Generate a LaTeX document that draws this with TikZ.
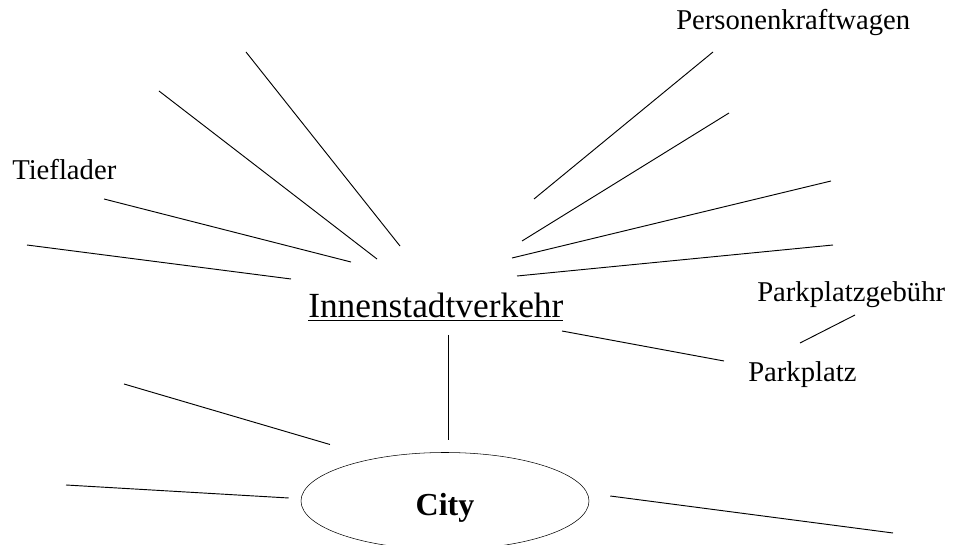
\documentclass[tikz,border=0pt]{standalone}
\usepackage{fontspec}
\setmainfont{Liberation Serif}
\usetikzlibrary{shapes.geometric}
\tikzstyle{topic}=[inner sep=0pt,font=\fontsize{26.5}{31}\selectfont]
\tikzstyle{word}=[inner sep=0pt,font=\fontsize{21.5}{25}\selectfont]
\tikzstyle{hub}=[ellipse,draw=black,inner sep=0pt,minimum width=216pt,minimum height=72.75pt,text height=21pt,text depth=0pt,font=\fontsize{24}{28}\selectfont\bfseries]
\tikzstyle{branch}=[line width=0.7pt]
\begin{document}
\begin{tikzpicture}[x=0.75pt,y=-0.75pt]
            \useasboundingbox (0,0) rectangle (954,545);
            \node (inv)[topic,anchor=base west] at (308,318) {\underline{Innenstadtverkehr}};
            \node (city)[hub] at (445,501) {City};
            \node (tief)[word,anchor=base west] at (12,180) {Tieflader};
            \node (pkw)[word,anchor=base west] at (676,30) {Personenkraftwagen};
            \node (park)[word,anchor=base west] at (748,382) {Parkplatz};
            \node (fee)[word,anchor=base west] at (757,302) {Parkplatzgebühr};
            % free ends of the empty branches
            \coordinate (free1) at (246,52);
            \coordinate (free2) at (159,91);
            \coordinate (free3) at (27,245);
            \coordinate (free4) at (729,113);
            \coordinate (free5) at (831,181);
            \coordinate (free6) at (833,245);
            \coordinate (free7) at (124,384);
            \coordinate (free8) at (66,485);
            \coordinate (free9) at (893,533);
            \draw [branch] (free1) -- ([shift={(92,-72)}]inv.base west);
            \draw [branch] (free2) -- ([shift={(69,-59)}]inv.base west);
            \draw [branch] ([shift={(92,19)}]tief.base west) -- ([shift={(43,-56)}]inv.base west);
            \draw [branch] (free3) -- ([shift={(-17,-39)}]inv.base west);
            \draw [branch] ([shift={(37,22)}]pkw.base west) -- ([shift={(226,-119)}]inv.base west);
            \draw [branch] (free4) -- ([shift={(214,-77)}]inv.base west);
            \draw [branch] (free5) -- ([shift={(204,-60)}]inv.base west);
            \draw [branch] (free6) -- ([shift={(209,-42)}]inv.base west);
            \draw [branch] ([shift={(254,13)}]inv.base west) -- ([shift={(-24,-21)}]park.base west);
            \draw [branch] ([shift={(98,13)}]fee.base west) -- ([shift={(52,-39)}]park.base west);
            \draw [branch] ([shift={(140,17)}]inv.base west) -- ([shift={(3,-12)}]city.north);
            \draw [branch] (free7) -- ([shift={(-13,-22)}]city.north west);
            \draw [branch] (free8) -- ([shift={(-12,-3)}]city.west);
            \draw [branch] ([shift={(21,-5)}]city.east) -- (free9);
        \end{tikzpicture}
\end{document}
